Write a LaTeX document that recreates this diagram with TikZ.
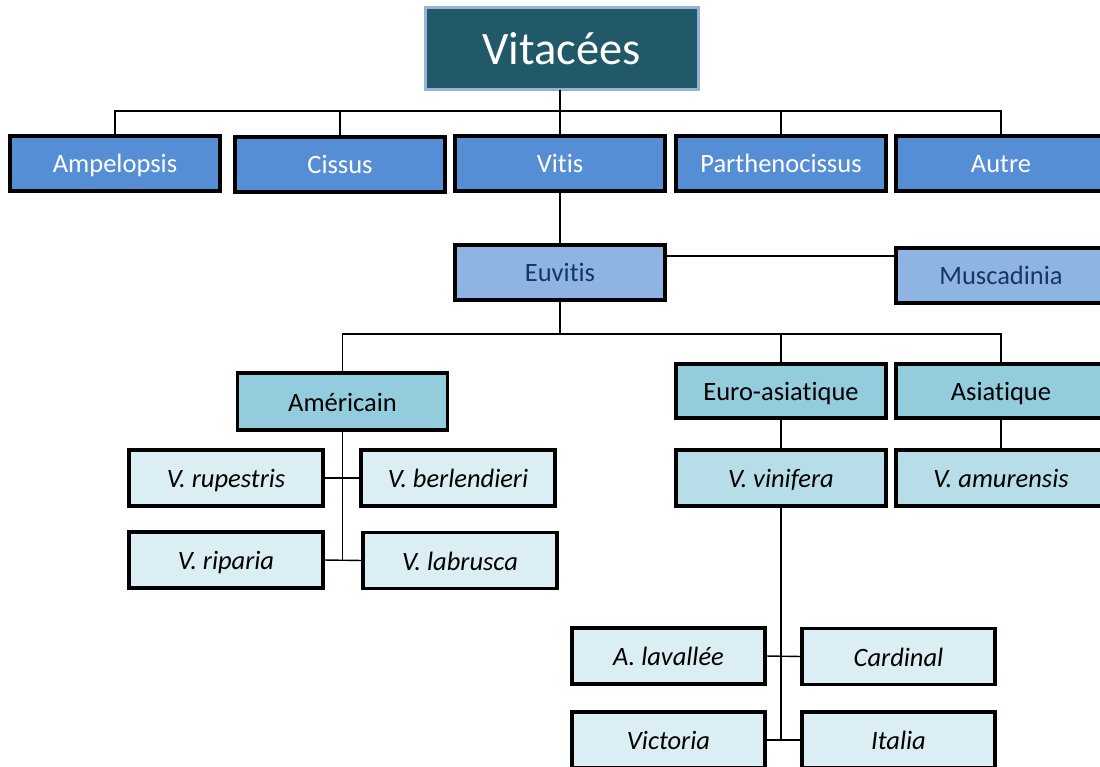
\documentclass[tikz,border=0pt]{standalone}
\usepackage{fontspec}
\setmainfont{Carlito}[Ligatures={NoCommon}]
\begin{document}
\begin{tikzpicture}[x=1pt,y=-1pt,
  base/.style={draw=black,line width=3.5pt,inner sep=0pt,outer sep=0pt,font=\fontsize{26.5}{30}\selectfont,minimum height=55pt,minimum width=210pt,text height=22pt,text depth=3pt},
  topbox/.style={draw=colTopBorder,line width=3pt,fill=colTop,text=white,inner sep=0pt,outer sep=0pt,minimum width=273pt,minimum height=82pt,font=\fontsize{46.5}{52}\selectfont,text height=36pt,text depth=4pt},
  lvlA/.style={base,fill=colA,text=white},
  lvlB/.style={base,fill=colB,text=colBText},
  lvlC/.style={base,fill=colC,text=black},
  lvlD/.style={base,fill=colD,text=black,font=\fontsize{26.5}{30}\selectfont\itshape},
  lvlE/.style={base,fill=colE,text=black,font=\fontsize{26.5}{30}\selectfont\itshape,minimum width=194pt,minimum height=56pt},
  link/.style={draw=black,line width=1.4pt}]
\definecolor{colTop}{HTML}{215968}
\definecolor{colTopBorder}{HTML}{95B3D7}
\definecolor{colA}{HTML}{558ED5}
\definecolor{colB}{HTML}{8EB4E3}
\definecolor{colBText}{HTML}{17375E}
\definecolor{colC}{HTML}{93CDDD}
\definecolor{colD}{HTML}{B7DEE8}
\definecolor{colE}{HTML}{DBEEF4}
\useasboundingbox (0,0) rectangle (1100,767);

\coordinate (h1) at (560,111);
\coordinate (h2) at (560,334);

% nodes
\node[topbox] (top) at (561.5,49) {Vitacées};
\node[lvlA] (amp) at (115,163.5) {Ampelopsis};
\node[lvlA] (cis) at (340,164.5) {Cissus};
\node[lvlA] (vitis) at (560,163.5) {Vitis};
\node[lvlA] (par) at (781,163.5) {Parthenocissus};
\node[lvlA] (aut) at (1001,163.5) {Autre};
\node[lvlB] (euv) at (560,272.5) {Euvitis};
\node[lvlB] (mus) at (1001,275.5) {Muscadinia};
\node[lvlC,minimum height=57pt] (ame) at (342.5,401.5) {Américain};
\node[lvlC,minimum height=54pt] (eur) at (781,391) {Euro-asiatique};
\node[lvlC,minimum height=54pt] (asi) at (1001,391) {Asiatique};
\node[lvlD,minimum height=56pt] (vin) at (781,478) {V. vinifera};
\node[lvlD,minimum height=56pt] (amu) at (1001,478) {V. amurensis};
\node[lvlE] (rup) at (226,478) {V. rupestris};
\node[lvlE] (ber) at (458,478) {V. berlendieri};
\node[lvlE] (rip) at (226,560) {V. riparia};
\node[lvlE] (lab) at (460,560.5) {V. labrusca};
\node[lvlE,minimum width=193pt] (lav) at (668.5,656) {A. lavallée};
\node[lvlE,minimum width=193pt] (car) at (898.5,656.5) {Cardinal};
\node[lvlE,minimum width=193pt] (vic) at (668.5,740) {Victoria};
\node[lvlE,minimum width=193pt] (ita) at (898.5,740) {Italia};

% connectors
\draw[link] (h1 |- top.south) -- (h1);
\draw[link] (amp.north) |- (h1);
\draw[link] (cis.north) |- (h1);
\draw[link] (h1) -- (vitis.north);
\draw[link] (par.north) |- (h1);
\draw[link] (aut.north) |- (h1);
\draw[link] (vitis.south) -- (euv.north);
\draw[link] ([yshift=-11pt]euv.north east) -- ([yshift=-11pt]euv.north east -| mus.west);
\draw[link] (euv.south) -- (h2);
\draw[link] (ame.north) |- (h2);
\draw[link] (eur.north) |- (h2);
\draw[link] (asi.north) |- (h2);
\draw[link] (ame.south) -- (ame.south |- rip.east);
\draw[link] (rup.east) -- (ber.west);
\draw[link] (rip.east) -- (lab.west);
\draw[link] (eur.south) -- (vin.north);
\draw[link] (asi.south) -- (amu.north);
\draw[link] (vin.south) -- (vin.south |- vic.east);
\draw[link] (lav.east) -- (car.west);
\draw[link] (vic.east) -- (ita.west);
\end{tikzpicture}
\end{document}
